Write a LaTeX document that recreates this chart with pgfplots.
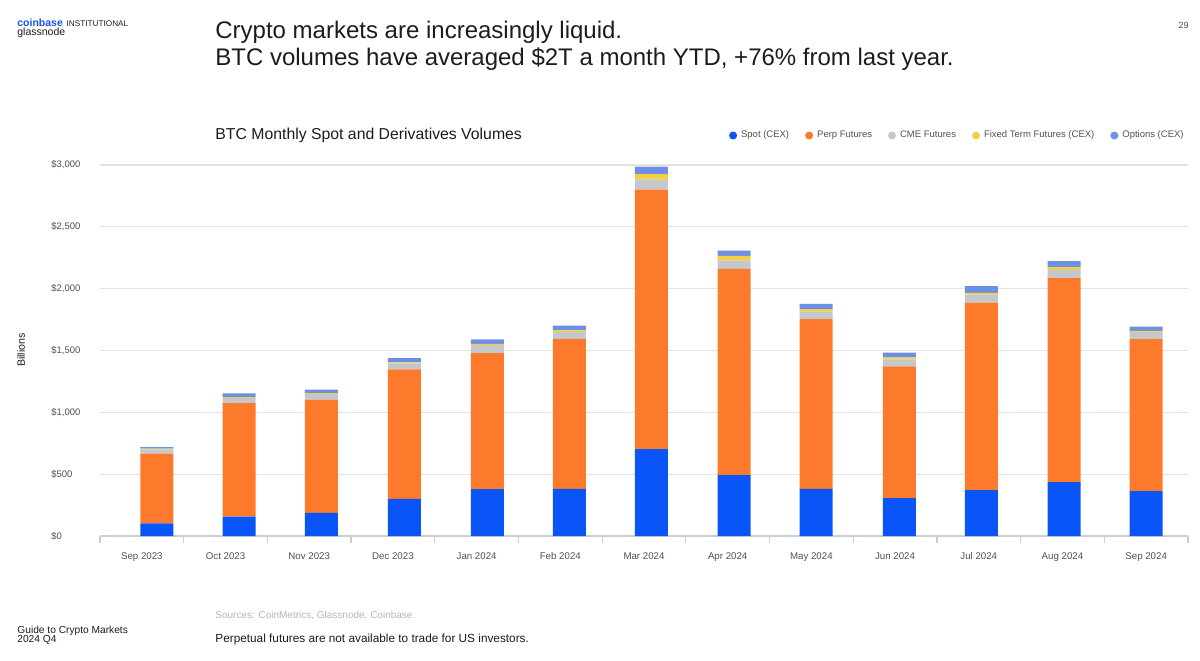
\documentclass[border=0pt]{standalone}
\usepackage{fontspec}
\setmainfont{Liberation Sans}
\usepackage{pgfplots}
\usepackage{pgfplotstable}
\pgfplotsset{compat=1.18}

\definecolor{spot}{HTML}{0A55F8}
\definecolor{perp}{HTML}{FD792B}
\definecolor{cme}{HTML}{C4C8CA}
\definecolor{fixed}{HTML}{F2CF45}
\definecolor{opt}{HTML}{6F8FE6}
\definecolor{cbblue}{HTML}{1652F0}
\definecolor{txt}{HTML}{1C1C1C}
\definecolor{lbl}{HTML}{505050}
\definecolor{gridc}{HTML}{E3E3E3}
\definecolor{axisc}{HTML}{CBD0D8}
\definecolor{src}{HTML}{B5B5B5}

% x = bar centre (months 0..12), values in billions USD
\pgfplotstableread{
x      spot perp cme fixed opt
0.181  102  565  34  5   12
1.161  156  919  40  8   30
2.145  188  914  45  8   28
3.136  301  1046 48  9   34
4.128  379  1100 65  10  35
5.107  382  1213 55  12  40
6.087  702  2099 81  45  60
7.078  492  1668 67  38  43
8.058  382  1372 60  20  43
9.050  306  1065 57  16  38
10.030 371  1517 64  14  54
11.020 435  1650 67  22  48
12.000 363  1229 57  10  35
}\datatable

\begin{document}
\begin{tikzpicture}
\useasboundingbox (0,0) rectangle (600pt,330pt);

% header
\node[anchor=base west, inner sep=0pt, text=cbblue, font=\fontsize{5.25}{6}\selectfont\bfseries] (cb) at (8.5pt,316.75pt) {coinbase};
\node[anchor=base west, inner sep=0pt, text=txt, font=\fontsize{4.1}{5}\selectfont] at ([xshift=1.5pt]cb.base east) {INSTITUTIONAL};
\node[anchor=base west, inner sep=0pt, text=txt, font=\fontsize{5.25}{6}\selectfont] at (8.5pt,312.25pt) {glassnode};
\node[anchor=base west, inner sep=0pt, text=txt, font=\fontsize{12}{14}\selectfont] at (107.5pt,310.5pt) {Crypto markets are increasingly liquid.};
\node[anchor=base west, inner sep=0pt, text=txt, font=\fontsize{12}{14}\selectfont] at (107.5pt,297pt) {BTC volumes have averaged \$2T a month YTD, +76\% from last year.};
\node[anchor=base east, inner sep=0pt, text=lbl, font=\fontsize{4.5}{5}\selectfont] at (594.5pt,315.5pt) {29};
\node[anchor=base west, inner sep=0pt, text=txt, font=\fontsize{7.9}{9}\selectfont] at (107.5pt,260pt) {BTC Monthly Spot and Derivatives Volumes};
\node[rotate=90, inner sep=0pt, text=txt, font=\fontsize{5.3}{6}\selectfont] at (10.5pt,155pt) {Billions};

% footer
\node[anchor=base west, inner sep=0pt, text=txt, font=\fontsize{5.1}{6}\selectfont] at (8.5pt,13.5pt) {Guide to Crypto Markets};
\node[anchor=base west, inner sep=0pt, text=txt, font=\fontsize{5.1}{6}\selectfont] at (8.5pt,9pt) {2024 Q4};
\node[anchor=base west, inner sep=0pt, text=src, font=\fontsize{5}{6}\selectfont] at (107.5pt,21pt) {Sources: CoinMetrics, Glassnode, Coinbase.};
\node[anchor=base west, inner sep=0pt, text=txt, font=\fontsize{5.9}{7}\selectfont] at (107.5pt,9pt) {Perpetual futures are not available to trade for US investors.};

\begin{axis}[
  at={(50pt,62pt)}, anchor=south west,
  scale only axis, width=544pt, height=185.5pt,
  xmin=-0.5, xmax=12.5, ymin=0, ymax=3000,
  ybar stacked, bar width=16.5pt,
  clip=false,
  axis x line*=bottom, axis y line*=left,
  x axis line style={draw=axisc, line width=0.6pt, -},
  y axis line style={draw=none},
  tick align=outside,
  major tick length=0pt,
  minor tick length=3.5pt,
  xtick={0,...,12},
  xticklabels={Sep 2023,Oct 2023,Nov 2023,Dec 2023,Jan 2024,Feb 2024,Mar 2024,Apr 2024,May 2024,Jun 2024,Jul 2024,Aug 2024,Sep 2024},
  minor xtick={-0.5,0.5,...,12.5},
  minor x tick style={draw=axisc, line width=0.6pt},
  xticklabel style={anchor=base, yshift=-11.75pt, inner sep=0pt, text=lbl, font=\fontsize{4.85}{6}\selectfont},
  ytick={0,500,...,3000},
  yticklabels={\$0,\$500,\$1{,}000,\$1{,}500,\$2{,}000,\$2{,}500,\$3{,}000},
  yticklabel style={anchor=west, xshift=-24.5pt, inner sep=0pt, text=lbl, font=\fontsize{4.75}{6}\selectfont},
  ymajorgrids, grid style={draw=gridc, line width=0.6pt},
  legend columns=5,
  legend style={at={(1,1)}, anchor=east, yshift=14.75pt, draw=none, fill=none,
    inner sep=0pt, text=lbl, font=\fontsize{4.75}{6}\selectfont,
    /tikz/every even column/.append style={column sep=6pt}},
  legend image code/.code={\fill[#1] (0,0) circle (2pt);},
]
\addplot[fill=spot, draw=none] table[x=x, y=spot] {\datatable};
\addlegendentry{Spot (CEX)}
\addplot[fill=perp, draw=none] table[x=x, y=perp] {\datatable};
\addlegendentry{Perp Futures}
\addplot[fill=cme, draw=none] table[x=x, y=cme] {\datatable};
\addlegendentry{CME Futures}
\addplot[fill=fixed, draw=none] table[x=x, y=fixed] {\datatable};
\addlegendentry{Fixed Term Futures (CEX)}
\addplot[fill=opt, draw=none] table[x=x, y=opt] {\datatable};
\addlegendentry{Options (CEX)}
\end{axis}
\end{tikzpicture}
\end{document}
